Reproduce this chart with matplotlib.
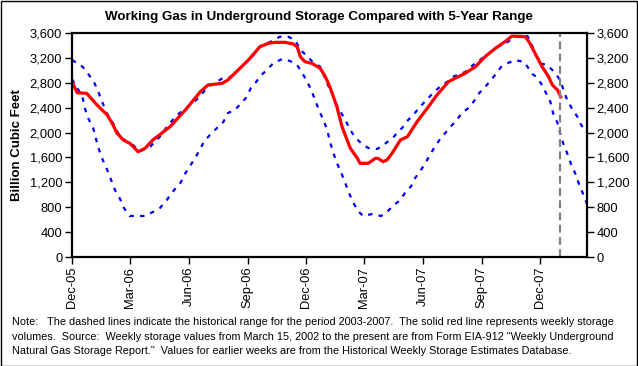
import numpy as np
import matplotlib
matplotlib.use("Agg")
import matplotlib.pyplot as plt
import matplotlib.dates as mdates

plt.rcParams['font.family'] = ['Liberation Sans', 'DejaVu Sans']

# weekly storage, Bcf
storage_dates = ["2005-12-01", "2005-12-09", "2005-12-24", "2006-01-09", "2006-01-25",
                 "2006-02-03", "2006-02-09", "2006-02-19", "2006-03-01", "2006-03-09",
                 "2006-03-14", "2006-03-25", "2006-04-06", "2006-05-03", "2006-05-29",
                 "2006-06-19", "2006-07-01", "2006-07-23", "2006-08-01", "2006-08-17",
                 "2006-09-02", "2006-09-20", "2006-10-03", "2006-10-14", "2006-10-29",
                 "2006-11-11", "2006-11-17", "2006-11-22", "2006-11-29", "2006-12-10",
                 "2006-12-23", "2006-12-31", "2007-01-07", "2007-01-18", "2007-01-26",
                 "2007-02-03", "2007-02-08", "2007-02-19", "2007-02-23", "2007-03-08",
                 "2007-03-19", "2007-03-23", "2007-03-31", "2007-04-06", "2007-04-14",
                 "2007-04-27", "2007-05-08", "2007-05-23", "2007-06-08", "2007-06-23",
                 "2007-07-11", "2007-07-21", "2007-08-06", "2007-08-22", "2007-09-06",
                 "2007-09-22", "2007-10-07", "2007-10-18", "2007-11-08", "2007-11-15",
                 "2007-11-23", "2007-12-04", "2007-12-14", "2007-12-20", "2007-12-28",
                 "2008-01-03"]
storage = [2817, 2640, 2630, 2443, 2282,
           2121, 1993, 1880, 1827, 1747,
           1692, 1747, 1880, 2094, 2390,
           2656, 2764, 2791, 2844, 3005,
           3166, 3380, 3434, 3450, 3450,
           3423, 3380, 3219, 3139, 3112,
           3032, 2898, 2737, 2415, 2094,
           1880, 1747, 1586, 1506, 1506,
           1586, 1586, 1532, 1559, 1666,
           1880, 1934, 2175, 2390, 2603,
           2817, 2871, 2952, 3058, 3219,
           3353, 3460, 3551, 3540, 3434,
           3273, 3058, 2898, 2764, 2684,
           2550]

# 5-year maximum
max_dates = ["2005-12-01", "2005-12-06", "2005-12-18", "2005-12-26", "2006-01-04",
             "2006-01-11", "2006-01-17", "2006-01-23", "2006-02-03", "2006-02-11",
             "2006-02-22", "2006-03-06", "2006-03-17", "2006-04-02", "2006-04-17",
             "2006-04-30", "2006-05-14", "2006-05-26", "2006-06-03", "2006-06-16",
             "2006-07-01", "2006-07-15", "2006-07-25", "2006-08-04", "2006-08-17",
             "2006-08-28", "2006-09-08", "2006-09-20", "2006-10-09", "2006-10-21",
             "2006-11-03", "2006-11-14", "2006-11-22", "2006-12-03", "2006-12-12",
             "2006-12-23", "2007-01-04", "2007-01-12", "2007-01-17", "2007-01-25",
             "2007-02-01", "2007-02-08", "2007-02-15", "2007-02-26", "2007-03-08",
             "2007-03-22", "2007-03-31", "2007-04-14", "2007-04-22", "2007-05-01",
             "2007-05-09", "2007-05-17", "2007-05-26", "2007-06-05", "2007-06-14",
             "2007-06-22", "2007-07-01", "2007-07-11", "2007-07-17", "2007-08-06",
             "2007-08-22", "2007-09-09", "2007-09-25", "2007-10-11", "2007-10-23",
             "2007-11-11", "2007-11-17", "2007-11-23", "2007-12-01", "2007-12-12",
             "2007-12-24", "2008-01-01", "2008-01-12", "2008-01-20", "2008-01-28",
             "2008-02-03", "2008-02-12"]
max_vals = [3166, 3134, 3053, 2946, 2817,
            2656, 2496, 2330, 2150, 1990,
            1870, 1800, 1700, 1773, 1934,
            2120, 2282, 2380, 2443, 2555,
            2737, 2817, 2882, 2887, 3005,
            3112, 3219, 3380, 3471, 3540,
            3540, 3487, 3326, 3230, 3123,
            3058, 2764, 2603, 2443, 2314,
            2185, 2041, 1928, 1816, 1752,
            1736, 1800, 1900, 1993, 2089,
            2201, 2282, 2394, 2507, 2603,
            2684, 2764, 2828, 2893, 2973,
            3118, 3246, 3375, 3455, 3535,
            3551, 3434, 3273, 3112, 3085,
            2962, 2844, 2523, 2378, 2255,
            2121, 1993]

# 5-year minimum
min_dates = ["2005-12-01", "2005-12-09", "2005-12-17", "2005-12-21", "2005-12-26",
             "2006-01-03", "2006-01-07", "2006-01-12", "2006-01-18", "2006-01-25",
             "2006-01-31", "2006-02-06", "2006-02-14", "2006-02-20", "2006-03-01",
             "2006-03-12", "2006-03-25", "2006-04-06", "2006-04-17", "2006-04-27",
             "2006-05-04", "2006-05-12", "2006-05-20", "2006-05-26", "2006-06-03",
             "2006-06-12", "2006-06-19", "2006-06-26", "2006-07-07", "2006-07-15",
             "2006-07-25", "2006-08-01", "2006-08-12", "2006-08-22", "2006-08-29",
             "2006-09-06", "2006-09-14", "2006-09-22", "2006-10-01", "2006-10-11",
             "2006-10-25", "2006-11-06", "2006-11-17", "2006-11-25", "2006-12-03",
             "2006-12-09", "2006-12-15", "2006-12-21", "2006-12-28", "2007-01-03",
             "2007-01-07", "2007-01-12", "2007-01-18", "2007-01-25", "2007-01-31",
             "2007-02-06", "2007-02-12", "2007-02-20", "2007-02-28", "2007-03-14",
             "2007-03-28", "2007-04-06", "2007-04-17", "2007-04-27", "2007-05-04",
             "2007-05-14", "2007-05-20", "2007-05-28", "2007-06-05", "2007-06-12",
             "2007-06-20", "2007-06-28", "2007-07-06", "2007-07-14", "2007-07-25",
             "2007-08-01", "2007-08-11", "2007-08-20", "2007-08-28", "2007-09-06",
             "2007-09-14", "2007-09-23", "2007-10-01", "2007-10-12", "2007-10-23",
             "2007-11-06", "2007-11-19", "2007-11-25", "2007-12-04", "2007-12-10",
             "2007-12-17", "2007-12-21", "2007-12-28", "2008-01-01", "2008-01-06",
             "2008-01-12", "2008-01-18", "2008-01-25", "2008-01-31", "2008-02-06",
             "2008-02-12"]
min_vals = [2860, 2716, 2587, 2394, 2234,
            2073, 1912, 1730, 1559, 1398,
            1237, 1077, 932, 787, 659,
            659, 659, 723, 787, 900,
            1012, 1109, 1205, 1334, 1462,
            1607, 1744, 1872, 1993, 2073,
            2170, 2314, 2362, 2475, 2555,
            2716, 2812, 2925, 3005, 3118,
            3182, 3150, 3085, 2957, 2812,
            2684, 2523, 2362, 2201, 2041,
            1864, 1687, 1511, 1350, 1189,
            1028, 884, 739, 659, 691,
            659, 723, 836, 916, 1028,
            1141, 1270, 1382, 1511, 1639,
            1776, 1896, 1993, 2089, 2218,
            2314, 2394, 2507, 2636, 2732,
            2828, 2941, 3053, 3118, 3166,
            3134, 2941, 2893, 2764, 2636,
            2491, 2314, 2153, 1993, 1824,
            1671, 1495, 1334, 1157, 1012,
            852]

current_week = "2008-01-01"
tick_dates = ["2005-12-01", "2006-03-01", "2006-06-01", "2006-09-01", "2006-12-01",
              "2007-03-01", "2007-06-01", "2007-09-01", "2007-12-01"]
y_ticks = list(range(0, 3601, 400))

note_lines = [
    "Note:   The dashed lines indicate the historical range for the period 2003-2007.  The solid red line represents weekly storage",
    "volumes.  Source:  Weekly storage values from March 15, 2002 to the present are from Form EIA-912 \"Weekly Underground",
    "Natural Gas Storage Report.\"  Values for earlier weeks are from the Historical Weekly Storage Estimates Database.",
]

W, H = 638, 366
fig = plt.figure(figsize=(W / 100, H / 100), dpi=100)
ax = fig.add_axes([72 / W, (H - 257) / H, (587 - 72) / W, (257 - 33) / H])

dash = (0, (2.0, 2.8))
ax.plot(np.array(max_dates, dtype="datetime64[D]"), max_vals,
        color="#0000ff", lw=1.6, linestyle=dash)
ax.plot(np.array(min_dates, dtype="datetime64[D]"), min_vals,
        color="#0000ff", lw=1.6, linestyle=dash)
ax.plot(np.array(storage_dates, dtype="datetime64[D]"), storage,
        color="#ff0000", lw=2.3, solid_capstyle="butt")
ax.axvline(np.datetime64(current_week), color="#808080", lw=1.6, linestyle=(0, (3.5, 2)))

ax.set_xlim(np.datetime64("2005-12-01"), np.datetime64("2008-02-12"))
ax.set_ylim(0, 3600)
ax.set_xticks(np.array(tick_dates, dtype="datetime64[D]"))
ax.xaxis.set_major_formatter(mdates.DateFormatter("%b-%y"))
ax.set_yticks(y_ticks)
ax.set_yticklabels([f"{v:,}" for v in y_ticks])

ax.tick_params(axis="x", direction="out", length=5, width=1, labelsize=9.3,
               labelrotation=90, pad=2)
ax.tick_params(axis="y", direction="out", length=5, width=1, labelsize=9.3,
               left=True, right=True, labelleft=True, labelright=True, pad=2)
for s in ax.spines.values():
    s.set_linewidth(1.6)

ax.set_ylabel("Billion Cubic Feet", fontsize=9.5, fontweight="bold", labelpad=5)

fig.text(0.5, 1 - 17 / H, "Working Gas in Underground Storage Compared with 5-Year Range",
         ha="center", va="center", fontsize=9.6, fontweight="bold")

for i, line in enumerate(note_lines):
    fig.text(12 / W, 1 - (322 + 14.6 * i) / H, line, ha="left", va="center", fontsize=7.85)

fig.patches.append(plt.Rectangle((0.5 / W, 0.5 / H), 1 - 1.5 / W, 1 - 1.5 / H,
                                 transform=fig.transFigure, fill=False,
                                 edgecolor="black", lw=1))

fig.savefig("out.png", dpi=100)
